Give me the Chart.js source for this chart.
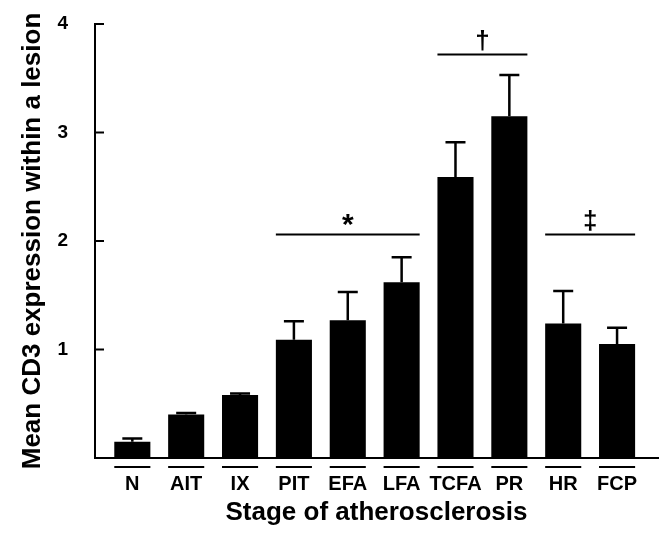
<!DOCTYPE html>
<html>
<head>
<meta charset="utf-8">
<script src="https://cdn.jsdelivr.net/npm/chart.js@4.4.1/dist/chart.umd.min.js"></script>
<style>
  html, body { margin: 0; padding: 0; background: #fff; }
  #wrap { width: 660px; height: 536px; }
</style>
</head>
<body>
<div id="wrap"><canvas id="cd3Chart" width="660" height="536"></canvas></div>
<script>
// --- Data ---
const STAGES = ["N", "AIT", "IX", "PIT", "EFA", "LFA", "TCFA", "PR", "HR", "FCP"];
const MEAN_CD3 = [0.15, 0.40, 0.58, 1.09, 1.27, 1.62, 2.59, 3.15, 1.24, 1.05];
const SEM_CD3 = [0.03, 0.015, 0.015, 0.17, 0.26, 0.23, 0.32, 0.38, 0.30, 0.15];
const Y_TICKS = [0, 1, 2, 3, 4];

// significance brackets: first bar, last bar, line height, mark
const SIG_FROM = [3, 6, 8];
const SIG_TO = [5, 7, 9];
const SIG_LEVEL = [2.06, 3.72, 2.06];
const SIG_MARK = ["*", "\u2020", "\u2021"];

const FONT = "'Liberation Sans', Arial, sans-serif";
Chart.defaults.font.family = FONT;
Chart.defaults.color = "#000";

// error bars, inward tick marks, label underlines, significance lines
const decorations = {
  id: "decorations",
  afterDatasetsDraw(chart) {
    const { ctx, scales: { x, y } } = chart;
    const bars = chart.getDatasetMeta(0).data;
    ctx.save();
    ctx.strokeStyle = "#000";
    ctx.fillStyle = "#000";

    // upper error bars
    ctx.lineWidth = 2.5;
    bars.forEach((bar, i) => {
      const top = y.getPixelForValue(MEAN_CD3[i] + SEM_CD3[i]);
      ctx.beginPath();
      ctx.moveTo(bar.x, bar.y);
      ctx.lineTo(bar.x, top);
      ctx.moveTo(bar.x - 10, top);
      ctx.lineTo(bar.x + 10, top);
      ctx.stroke();
    });

    // y tick marks pointing into the plot
    ctx.lineWidth = 2;
    Y_TICKS.forEach(v => {
      const py = y.getPixelForValue(v);
      ctx.beginPath();
      ctx.moveTo(x.left, py);
      ctx.lineTo(x.left + 9, py);
      ctx.stroke();
    });

    // short line above every stage label
    bars.forEach(bar => {
      const half = bar.width / 2;
      ctx.beginPath();
      ctx.moveTo(bar.x - half, x.top + 9);
      ctx.lineTo(bar.x + half, x.top + 9);
      ctx.stroke();
    });

    // significance lines with marks
    ctx.textAlign = "center";
    ctx.textBaseline = "middle";
    SIG_LEVEL.forEach((lvl, k) => {
      const a = bars[SIG_FROM[k]], b = bars[SIG_TO[k]];
      const x0 = a.x - a.width / 2, x1 = b.x + b.width / 2;
      const py = y.getPixelForValue(lvl);
      ctx.beginPath();
      ctx.moveTo(x0, py);
      ctx.lineTo(x1, py);
      ctx.stroke();
      ctx.font = (SIG_MARK[k] === "*" ? "bold 30px " : "bold 26px ") + FONT;
      ctx.fillText(SIG_MARK[k], (x0 + x1) / 2, py - (SIG_MARK[k] === "*" ? 9 : 13));
    });
    ctx.restore();
  }
};

new Chart(document.getElementById("cd3Chart").getContext("2d"), {
  type: "bar",
  data: {
    datasets: [{
      data: STAGES.map((s, i) => ({ x: i, y: MEAN_CD3[i] })),
      backgroundColor: "#000",
      borderWidth: 0,
      barPercentage: 0.67,
      categoryPercentage: 1
    }]
  },
  options: {
    responsive: false,
    animation: false,
    layout: { padding: { top: 24, right: 2, bottom: 0, left: 0 } },
    plugins: { legend: { display: false }, tooltip: { enabled: false } },
    scales: {
      x: {
        type: "linear",
        min: -0.693,
        max: 9.76,
        offset: false,
        grid: { display: false, drawTicks: false },
        border: { display: true, color: "#000", width: 2 },
        ticks: {
          stepSize: 1,
          includeBounds: false,
          autoSkip: false,
          maxRotation: 0,
          padding: 14,
          font: { size: 20, weight: "bold" },
          callback: v => STAGES[v] ?? ""
        },
        title: {
          display: true,
          text: "Stage of atherosclerosis",
          font: { size: 26, weight: "bold" },
          padding: { top: 0, bottom: 8 }
        },
        afterFit: s => { s.height = 78; }
      },
      y: {
        min: 0,
        max: 4,
        grid: { display: false, drawTicks: false },
        border: { display: true, color: "#000", width: 2 },
        ticks: {
          stepSize: 1,
          padding: 27,
          font: { size: 19, weight: "bold" },
          callback: v => (v === 0 ? "" : v)
        },
        title: {
          display: true,
          text: "Mean CD3 expression within a lesion",
          font: { size: 26, weight: "bold" },
          padding: { top: 17, bottom: 0 }
        },
        afterFit: s => { s.width = 95; s.paddingTop = 0; s.paddingBottom = 0; }
      }
    }
  },
  plugins: [decorations]
});
</script>
</body>
</html>
